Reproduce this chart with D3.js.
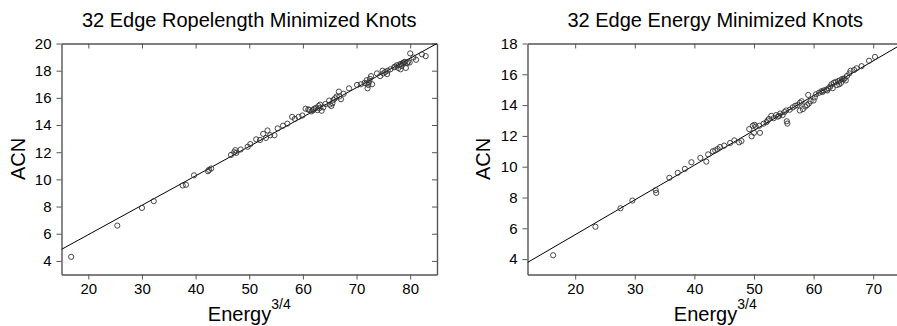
<!DOCTYPE html>
<html>
<head>
<meta charset="utf-8">
<script src="https://cdn.jsdelivr.net/npm/d3@7"></script>
<style>
  body { margin: 0; background: #fff; }
  svg { display: block; font-family: "Liberation Sans", Arial, Helvetica, sans-serif; }
  .title { font-size: 20px; text-anchor: middle; }
  .alabel { font-size: 20px; }
  .tick text { font-size: 15px; fill: #000; }
  .domain, .tick line { stroke: #555; }
  .pt { fill: none; stroke: #333; stroke-width: 0.9px; }
  .fit { stroke: #000; stroke-width: 1px; fill: none; }
</style>
</head>
<body>
<svg id="chart" width="897" height="326"></svg>
<script>
// ropelength minimized knots: energy^(3/4) vs ACN
var ropeX = [16.8, 25.4, 30.0, 32.2, 37.6, 38.2, 39.7, 42.3, 42.5, 42.9, 46.6, 47.2, 47.4, 47.6, 48.4,
  49.7, 50.2, 51.3, 52.0, 52.6, 53.1, 53.4, 53.9, 54.7, 55.3, 56.3, 57.1, 58.0, 58.5, 59.2, 59.9,
  60.5, 61.0, 61.2, 61.6, 61.9, 62.1, 62.4, 62.7, 62.9, 63.1, 63.2, 63.5, 63.8, 64.2, 64.9, 65.0,
  65.3, 65.5, 65.7, 66.0, 66.3, 66.7, 66.8, 67.1, 67.6, 68.6, 70.1, 70.8, 71.5, 71.8, 71.9, 72.05,
  72.2, 72.3, 72.5, 72.7, 72.9, 73.8, 74.4, 74.85, 75.0, 75.35, 75.7, 75.8, 76.3, 77.0, 77.2, 77.5,
  77.8, 78.0, 78.2, 78.3, 78.4, 78.6, 78.8, 79.0, 79.2, 79.4, 79.6, 79.9, 80.0, 80.6, 81.1, 82.2, 82.9];
var ropeY = [4.3, 6.6, 7.9, 8.4, 9.55, 9.6, 10.3, 10.6, 10.7, 10.8, 11.8, 12.0, 12.15, 11.95, 12.2,
  12.4, 12.6, 12.95, 12.9, 13.35, 13.05, 13.6, 13.25, 13.25, 13.75, 13.95, 14.1, 14.6, 14.45, 14.6, 14.7,
  15.2, 15.15, 15.1, 15.0, 15.1, 15.2, 15.25, 15.1, 15.4, 15.25, 15.5, 15.05, 15.3, 15.55, 15.8, 15.5,
  15.4, 15.6, 15.85, 15.97, 16.1, 16.46, 16.1, 15.9, 16.3, 16.7, 16.95, 17.0, 17.1, 17.05, 17.3, 16.7,
  16.95, 17.15, 17.4, 17.6, 17.0, 17.8, 17.6, 18.0, 17.8, 17.9, 17.75, 18.0, 18.1, 18.25, 18.3, 18.4,
  18.2, 18.45, 18.1, 18.5, 18.35, 18.55, 18.6, 18.65, 18.2, 18.55, 18.65, 18.6, 19.27, 18.97, 18.8, 19.2, 19.07];
var ropeFit = [[15, 4.85], [85, 20.0]];

// energy minimized knots
var energyX = [16.3, 23.4, 27.6, 29.6, 33.5, 33.6, 35.8, 37.2, 38.4, 39.5, 41.0, 42.0, 42.3, 43.1, 43.5,
  43.9, 44.3, 45.0, 46.0, 46.7, 47.5, 47.9, 49.2, 49.6, 49.8, 50.0, 50.1, 50.3, 50.9, 51.0, 51.6, 52.1,
  52.3, 52.5, 52.9, 53.3, 53.7, 54.0, 54.2, 54.4, 54.8, 55.1, 55.4, 55.5, 55.6, 56.0, 56.5, 56.9, 57.3,
  57.7, 57.7, 58.0, 58.2, 58.6, 58.9, 59.1, 59.2, 59.5, 60.0, 60.2, 60.4, 60.9, 61.3, 61.5, 61.7, 62.1,
  62.3, 62.5, 62.8, 63.0, 63.2, 63.4, 63.7, 63.9, 64.1, 64.3, 64.4, 64.6, 64.8, 65.0, 65.2, 65.4, 65.6,
  66.0, 66.2, 66.8, 67.2, 68.05, 69.3, 70.3];
var energyY = [4.25, 6.1, 7.3, 7.8, 8.48, 8.3, 9.28, 9.6, 9.86, 10.29, 10.57, 10.33, 10.8, 11.0, 11.06,
  11.15, 11.28, 11.37, 11.54, 11.71, 11.58, 11.67, 12.44, 11.97, 12.66, 12.2, 12.72, 12.6, 12.66, 12.2, 12.79, 12.9,
  13.0, 13.1, 13.3, 13.15, 13.35, 13.25, 13.3, 13.45, 13.35, 13.55, 13.65, 12.95, 12.8, 13.7, 13.85, 13.95, 14.0,
  14.15, 13.65, 14.25, 13.74, 13.9, 14.0, 14.66, 14.1, 14.25, 14.3, 14.5, 14.7, 14.8, 14.9, 14.85, 14.95, 15.0,
  14.95, 15.1, 15.2, 15.35, 15.1, 15.45, 15.5, 15.3, 15.55, 15.35, 15.6, 15.45, 15.7, 15.67, 15.74, 15.6, 15.89,
  16.06, 16.23, 16.28, 16.39, 16.53, 16.88, 17.13];
var energyFit = [[12, 3.78], [75, 18.0]];

var ropeXTicks = [20, 30, 40, 50, 60, 70, 80];
var ropeYTicks = [4, 6, 8, 10, 12, 14, 16, 18, 20];
var energyXTicks = [20, 30, 40, 50, 60, 70];
var energyYTicks = [4, 6, 8, 10, 12, 14, 16, 18];

var svg = d3.select("#chart");

function panel(id, left, right, title, xs, ys, fit, xDom, yDom, xTicks, yTicks, ylabX) {
  var top = 43.5, bottom = 274.5;
  var x = d3.scaleLinear().domain(xDom).range([left, right]);
  var y = d3.scaleLinear().domain(yDom).range([bottom, top]);
  var g = svg.append("g");

  g.append("clipPath").attr("id", id).append("rect")
    .attr("x", left).attr("y", top).attr("width", right - left).attr("height", bottom - top);

  g.append("g").attr("transform", "translate(0," + bottom + ")")
    .call(d3.axisBottom(x).tickValues(xTicks).tickSizeInner(5).tickSizeOuter(0).tickPadding(4));
  g.append("g").attr("transform", "translate(" + left + ",0)")
    .call(d3.axisLeft(y).tickValues(yTicks).tickSizeInner(5).tickSizeOuter(0).tickPadding(5));
  g.append("g").attr("transform", "translate(0," + top + ")")
    .call(d3.axisTop(x).tickValues(xTicks).tickSizeInner(-5).tickSizeOuter(0).tickFormat(""));
  g.append("g").attr("transform", "translate(" + right + ",0)")
    .call(d3.axisRight(y).tickValues(yTicks).tickSizeInner(-5).tickSizeOuter(0).tickFormat(""));
  g.selectAll(".domain").attr("stroke-width", 1.4);

  g.append("line").attr("class", "fit").attr("clip-path", "url(#" + id + ")")
    .attr("x1", x(fit[0][0])).attr("y1", y(fit[0][1]))
    .attr("x2", x(fit[1][0])).attr("y2", y(fit[1][1]));

  g.append("g").selectAll("circle").data(d3.range(xs.length)).join("circle")
    .attr("class", "pt")
    .attr("cx", function(i) { return x(xs[i]); })
    .attr("cy", function(i) { return y(ys[i]); })
    .attr("r", 2.6);

  var cx = (left + right) / 2;
  g.append("text").attr("class", "title").attr("x", cx).attr("y", 27).text(title);

  var xl = g.append("text").attr("class", "alabel").attr("x", cx).attr("y", 321)
    .attr("text-anchor", "middle");
  xl.append("tspan").text("Energy");
  xl.append("tspan").attr("dy", -12).attr("font-size", 14).text("3/4");

  g.append("text").attr("class", "alabel").attr("text-anchor", "middle")
    .attr("transform", "translate(" + ylabX + "," + 159 + ") rotate(-90)")
    .text("ACN");
}

panel("clipA", 61.5, 437, "32 Edge Ropelength Minimized Knots", ropeX, ropeY, ropeFit,
  [15, 85], [3, 20], ropeXTicks, ropeYTicks, 25);
panel("clipB", 527.5, 903, "32 Edge Energy Minimized Knots", energyX, energyY, energyFit,
  [12, 75], [3, 18], energyXTicks, energyYTicks, 490);
</script>
</body>
</html>
